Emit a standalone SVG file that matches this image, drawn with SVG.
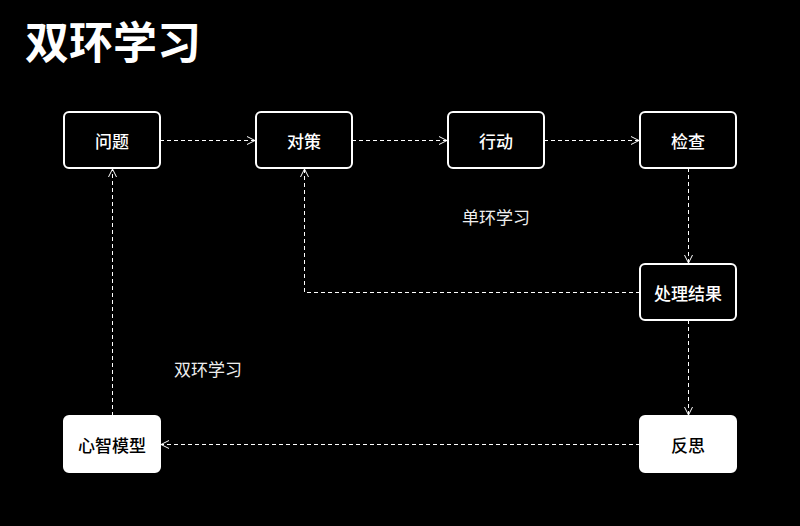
<svg xmlns="http://www.w3.org/2000/svg" width="800" height="526" viewBox="0 0 800 526">
<style>
.t{font-family:"Noto Sans CJK SC","Liberation Sans",sans-serif;}
.box{fill:#000;stroke:#fff;stroke-width:2;}
.boxw{fill:#fff;stroke:#fff;stroke-width:2;}
.lbl{font-size:17px;font-weight:500;fill:#fff;text-anchor:middle;dominant-baseline:central;}
.lblb{font-size:17px;font-weight:500;fill:#000;text-anchor:middle;dominant-baseline:central;}
.edge{fill:none;stroke:#fff;stroke-width:1;stroke-dasharray:4 3;marker-end:url(#arr);}
.cap{font-size:17px;fill:#eee;text-anchor:middle;dominant-baseline:central;}
</style>
<defs>
<marker id="arr" viewBox="0 0 10 10" refX="9" refY="5" markerWidth="10" markerHeight="10" markerUnits="userSpaceOnUse" orient="auto">
<path d="M1,1 L9,5 L1,9" fill="none" stroke="#fff" stroke-width="1"/>
</marker>
</defs>
<rect width="800" height="526" fill="#000"/>
<text class="t" x="25" y="59" font-size="44" font-weight="bold" fill="#fff">双环学习</text>
<g id="connectors">
<path class="edge" d="M160,140.5 H255"/>
<path class="edge" d="M352,140.5 H447"/>
<path class="edge" d="M544,140.5 H639"/>
<path class="edge" d="M688.5,168 V263"/>
<path class="edge" d="M640,292.5 H304.5 V169"/>
<path class="edge" d="M688.5,320 V415"/>
<path class="edge" d="M640,444.5 H161"/>
<path class="edge" d="M112.5,416 V169"/>
</g>
<g id="n1"><rect class="box" x="64" y="112" width="96" height="56" rx="5"/><text class="t lbl" x="112" y="140">问题</text></g>
<g id="n2"><rect class="box" x="256" y="112" width="96" height="56" rx="5"/><text class="t lbl" x="304" y="140">对策</text></g>
<g id="n3"><rect class="box" x="448" y="112" width="96" height="56" rx="5"/><text class="t lbl" x="496" y="140">行动</text></g>
<g id="n4"><rect class="box" x="640" y="112" width="96" height="56" rx="5"/><text class="t lbl" x="688" y="140">检查</text></g>
<g id="n5"><rect class="box" x="640" y="264" width="96" height="56" rx="5"/><text class="t lbl" x="688" y="292">处理结果</text></g>
<g id="n6"><rect class="boxw" x="640" y="416" width="96" height="56" rx="5"/><text class="t lblb" x="688" y="444">反思</text></g>
<g id="n7"><rect class="boxw" x="64" y="416" width="96" height="56" rx="5"/><text class="t lblb" x="112" y="444">心智模型</text></g>
<text class="t cap" x="496" y="216">单环学习</text>
<text class="t cap" x="208" y="368">双环学习</text>
</svg>
